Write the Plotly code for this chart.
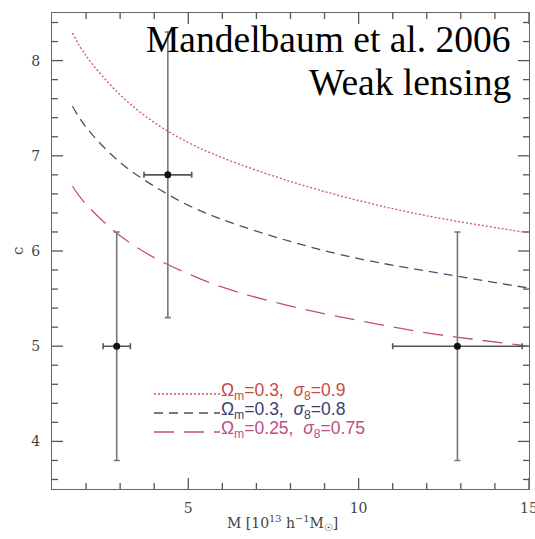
import plotly.graph_objects as go

# ---- data ----
mass_grid = [1.6, 2, 3, 4, 5, 6, 8, 10, 12, 15]
c_om03_s09 = [8.29, 8.05, 7.64, 7.35, 7.14, 6.98, 6.73, 6.53, 6.37, 6.19]
c_om03_s08 = [7.52, 7.30, 6.93, 6.68, 6.48, 6.33, 6.10, 5.92, 5.79, 5.61]
c_om025_s075 = [6.68, 6.49, 6.16, 5.93, 5.76, 5.62, 5.42, 5.27, 5.14, 5.00]

obs_mass = [2.9, 4.4, 12.9]
obs_mass_err = [0.4, 0.7, 1.9]
obs_c = [5.0, 6.8, 5.0]
obs_c_err = [1.2, 1.5, 1.2]

x_range = [1, 15.001]
y_range = [3.5, 8.5]
x_major_ticks = [5, 10, 15]
x_minor_ticks = [2, 3, 4, 6, 7, 8, 9, 11, 12, 13, 14]
y_major_ticks = [4, 5, 6, 7, 8]
y_minor_ticks = [3.6, 3.8, 4.2, 4.4, 4.6, 4.8, 5.2, 5.4, 5.6, 5.8, 6.2, 6.4, 6.6, 6.8,
                 7.2, 7.4, 7.6, 7.8, 8.2, 8.4]

legend_labels = [
    "Ω<sub>m</sub>=0.3,  <i>σ</i><sub>8</sub>=0.9",
    "Ω<sub>m</sub>=0.3,  <i>σ</i><sub>8</sub>=0.8",
    "Ω<sub>m</sub>=0.25,  <i>σ</i><sub>8</sub>=0.75",
]
curve_colors = ["#c8586c", "#4a4e6c", "#c0507e"]
text_colors = ["#c84848", "#3c4070", "#c44a82"]
curve_dash = ["2px,2px", "9px,6px", "20px,10px"]
curves = [c_om03_s09, c_om03_s08, c_om025_s075]

# layout geometry (pixels)
L, R, T, B = 52, 529, 13, 489
W, H = R - L, B - T
def px(xp):
    return (xp - L) / W
def py(yp):
    return (B - yp) / H

fig = go.Figure()

# ---- inside ticks on all four sides, drawn on the library's axes ----
x_per_px = (x_range[1] - x_range[0]) / W
y_per_px = (y_range[1] - y_range[0]) / H
tx, ty = [], []
for vals, ln in ((x_major_ticks, 11), (x_minor_ticks, 6)):
    for v in vals:
        tx += [v, v, None, v, v, None]
        ty += [y_range[0], y_range[0] + ln * y_per_px, None,
               y_range[1], y_range[1] - ln * y_per_px, None]
for vals, ln in ((y_major_ticks, 11), (y_minor_ticks, 6)):
    for v in vals:
        tx += [x_range[0], x_range[0] + ln * x_per_px, None,
               x_range[1], x_range[1] - ln * x_per_px, None]
        ty += [v, v, None, v, v, None]
fig.add_trace(go.Scatter(x=tx, y=ty, mode="lines", connectgaps=False,
                         line=dict(color="#555555", width=1.3),
                         showlegend=False, hoverinfo="skip"))

for ys, col, dash in zip(curves, curve_colors, curve_dash):
    fig.add_trace(go.Scatter(x=mass_grid, y=ys, mode="lines",
                             line=dict(color=col, width=1.3, dash=dash, shape="spline"),
                             showlegend=False, hoverinfo="skip"))

fig.add_trace(go.Scatter(
    x=obs_mass, y=obs_c, mode="markers",
    marker=dict(color="#111111", size=7),
    error_x=dict(type="data", array=obs_mass_err, color="#555555", thickness=1.6, width=3),
    error_y=dict(type="data", array=obs_c_err, color="#777777", thickness=1.6, width=3),
    showlegend=False))

# legend keys (decoration)
rows = [394, 413, 432]
for yrow, col, dash, lab, tcol in zip(rows, curve_colors, curve_dash, legend_labels, text_colors):
    fig.add_shape(type="line", xref="paper", yref="paper",
                  x0=px(154), x1=px(220), y0=py(yrow), y1=py(yrow),
                  line=dict(color=col, width=1.3, dash=dash))
    fig.add_annotation(xref="paper", yref="paper", x=px(219), y=py(yrow - 3),
                       text=lab, showarrow=False, xanchor="left", yanchor="middle",
                       font=dict(family="Liberation Sans", size=17.5, color=tcol))

fig.add_annotation(xref="paper", yref="paper", x=px(513), y=py(39),
                   text="Mandelbaum et al. 2006", showarrow=False,
                   xanchor="right", yanchor="middle",
                   font=dict(family="Liberation Serif", size=37.5, color="#000000"))
fig.add_annotation(xref="paper", yref="paper", x=px(513), y=py(82),
                   text="Weak lensing", showarrow=False,
                   xanchor="right", yanchor="middle",
                   font=dict(family="Liberation Serif", size=37.5, color="#000000"))

# axis titles
fig.add_annotation(xref="paper", yref="paper", x=px(282), y=py(523),
                   text="M [10<sup>13</sup> h<sup>−1</sup>M<sub>☉</sub>]", showarrow=False,
                   xanchor="center", yanchor="middle",
                   font=dict(family="DejaVu Serif", size=14, color="#444444"))
fig.add_annotation(xref="paper", yref="paper", x=px(18), y=py(251),
                   text="c", showarrow=False, textangle=-90,
                   xanchor="center", yanchor="middle",
                   font=dict(family="DejaVu Serif", size=15, color="#444444"))

axis_common = dict(showline=True, linecolor="#666666", linewidth=1.3, mirror=True,
                   ticks="", showgrid=False, zeroline=False, tickmode="array",
                   automargin=False, ticklabeloverflow="allow",
                   tickfont=dict(family="DejaVu Serif", size=14, color="#444444"))

fig.update_xaxes(range=x_range, tickvals=x_major_ticks, ticklabelstandoff=6,
                 **axis_common)
fig.update_yaxes(range=y_range, tickvals=y_major_ticks, ticklabelstandoff=8,
                 **axis_common)

fig.update_layout(width=535, height=539,
                  margin=dict(l=L, r=535 - R, t=T, b=539 - B),
                  paper_bgcolor="white", plot_bgcolor="white")

fig.write_html("out.html")
